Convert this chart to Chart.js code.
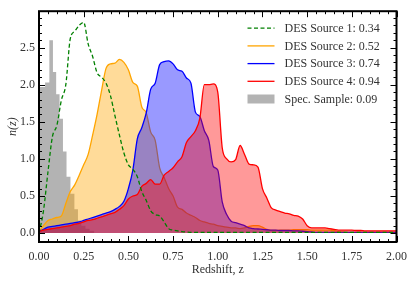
<!DOCTYPE html>
<html>
<head>
<meta charset="utf-8">
<script src="https://cdn.jsdelivr.net/npm/chart.js@4.4.1/dist/chart.umd.min.js"></script>
<style>
  html, body { margin: 0; padding: 0; background: #fff; }
</style>
</head>
<body>
<canvas id="nzChart" width="415" height="282"></canvas>
<script>
// redshift grid for the four DES source bins
const zGrid = [
  0.000, 0.025, 0.050, 0.075, 0.100, 0.125, 0.150, 0.175, 0.200, 0.225,
  0.250, 0.275, 0.300, 0.325, 0.350, 0.375, 0.400, 0.425, 0.450, 0.475,
  0.500, 0.525, 0.550, 0.575, 0.600, 0.625, 0.650, 0.675, 0.700, 0.725,
  0.750, 0.775, 0.800, 0.825, 0.850, 0.875, 0.900, 0.925, 0.950, 0.975,
  1.000, 1.025, 1.050, 1.075, 1.100, 1.125, 1.150, 1.175, 1.200, 1.225,
  1.250, 1.275, 1.300, 1.325, 1.350, 1.375, 1.400, 1.425, 1.450, 1.475,
  1.500, 1.525, 1.550, 1.575, 1.600, 1.625, 1.650, 1.675, 1.700, 1.725,
  1.750, 1.775, 1.800, 1.825, 1.850, 1.875, 1.900, 1.925, 1.950, 1.975,
  2.000
];

const source1 = [
  0.00, 0.30, 0.82, 1.30, 1.45, 1.79, 2.00, 2.62, 2.72, 2.80,
  2.84, 2.55, 2.38, 2.16, 2.10, 2.02, 1.85, 1.58, 1.32, 1.08,
  0.92, 0.86, 0.76, 0.56, 0.44, 0.30, 0.25, 0.23, 0.15, 0.06,
  0.04, 0.03, 0.02, 0.015, 0.01, 0.01, 0.01, 0.01, 0.01, 0.01,
  0.01, 0.01, 0.01, 0.01, 0.01, 0.01, 0.01, 0.01, 0.01, 0.01,
  0.01, 0.01, 0.01, 0.01, 0.01, 0.01, 0.01, 0.01, 0.01, 0.01,
  0.01, 0.01, 0.01, 0.01, 0.01, 0.01, 0.01, 0.01, 0.01, 0.01,
  0.01, 0.01, 0.01, 0.01, 0.01, 0.01, 0.01, 0.01, 0.01, 0.01,
  0.01
];

const source2 = [
  0.02, 0.10, 0.17, 0.19, 0.21, 0.23, 0.40, 0.56, 0.65, 0.78,
  0.92, 1.06, 1.32, 1.60, 1.92, 2.22, 2.28, 2.29, 2.34, 2.30,
  2.20, 2.03, 1.98, 1.70, 1.62, 1.36, 1.25, 0.88, 0.75, 0.60,
  0.50, 0.35, 0.32, 0.27, 0.24, 0.21, 0.17, 0.15, 0.13, 0.12,
  0.10, 0.09, 0.08, 0.07, 0.07, 0.06, 0.07, 0.09, 0.10, 0.10,
  0.08, 0.05, 0.035, 0.035, 0.04, 0.04, 0.04, 0.045, 0.045, 0.045,
  0.045, 0.04, 0.04, 0.04, 0.04, 0.04, 0.035, 0.02, 0.015, 0.01,
  0.01, 0.01, 0.01, 0.01, 0.01, 0.01, 0.01, 0.01, 0.01, 0.01,
  0.01
];

const source3 = [
  0.02, 0.05, 0.08, 0.09, 0.10, 0.11, 0.12, 0.13, 0.14, 0.15,
  0.17, 0.19, 0.21, 0.23, 0.25, 0.27, 0.29, 0.32, 0.36, 0.43,
  0.60, 0.85, 1.27, 1.42, 1.62, 1.94, 2.02, 2.27, 2.31, 2.32,
  2.28, 2.20, 2.18, 2.09, 2.02, 1.63, 1.57, 1.38, 1.25, 0.90,
  0.85, 0.42, 0.25, 0.16, 0.14, 0.12, 0.10, 0.07, 0.06, 0.055,
  0.05, 0.045, 0.04, 0.04, 0.035, 0.035, 0.035, 0.03, 0.03, 0.025,
  0.02, 0.015, 0.01, 0.01, 0.01, 0.01, 0.01, 0.01, 0.01, 0.01,
  0.01, 0.01, 0.01, 0.01, 0.01, 0.01, 0.01, 0.01, 0.01, 0.01,
  0.01
];

const source4 = [
  0.02, 0.04, 0.05, 0.06, 0.07, 0.08, 0.09, 0.10, 0.12, 0.13,
  0.15, 0.17, 0.18, 0.20, 0.22, 0.24, 0.26, 0.28, 0.32, 0.37,
  0.46, 0.50, 0.52, 0.63, 0.67, 0.72, 0.66, 0.66, 0.78, 0.83,
  0.88, 0.96, 1.03, 1.22, 1.30, 1.38, 1.55, 2.00, 2.00, 2.01,
  1.90, 1.15, 1.00, 0.96, 0.99, 1.18, 1.06, 0.93, 0.92, 0.89,
  0.60, 0.47, 0.34, 0.31, 0.29, 0.27, 0.26, 0.24, 0.23, 0.19,
  0.10, 0.07, 0.07, 0.07, 0.07, 0.06, 0.05, 0.04, 0.04, 0.04,
  0.04, 0.035, 0.035, 0.03, 0.03, 0.03, 0.03, 0.03, 0.03, 0.03,
  0.03
];

// spectroscopic sample histogram: left bin edges and heights (last edge closes it)
const specEdges = [0.000, 0.034, 0.058, 0.078, 0.096, 0.115, 0.134, 0.154, 0.176, 0.198, 0.218, 0.237, 0.260, 0.283, 0.310];
const specValues = [1.97, 2.03, 2.60, 2.17, 1.87, 1.54, 1.10, 0.76, 0.53, 0.32, 0.17, 0.10, 0.06, 0.03, 0.00];

const seriesNames = ['DES Source 1: 0.34', 'DES Source 2: 0.52', 'DES Source 3: 0.74', 'DES Source 4: 0.94', 'Spec. Sample: 0.09'];
const xTicks = [0, 0.25, 0.5, 0.75, 1, 1.25, 1.5, 1.75, 2];
const yTicks = [0, 0.5, 1, 1.5, 2, 2.5];

const FONT = '"Liberation Serif", "Times New Roman", serif';
const TEXT = '#333';

function pts(xs, ys) {
  return xs.map((x, i) => ({ x: x, y: ys[i] }));
}

// inward ticks on all four sides plus the black frame
const frameTicks = {
  id: 'frameTicks',
  afterDatasetsDraw(chart) {
    const { ctx, chartArea: a, scales: { x, y } } = chart;
    ctx.save();
    ctx.strokeStyle = '#000';
    ctx.lineWidth = 1;
    ctx.beginPath();
    for (let v = 0; v <= 2.0001; v += 0.05) {
      const px = Math.round(x.getPixelForValue(v)) + 0.5;
      const major = Math.abs(v / 0.25 - Math.round(v / 0.25)) < 1e-6;
      const len = major ? 6 : 3;
      ctx.moveTo(px, a.bottom); ctx.lineTo(px, a.bottom - len);
      ctx.moveTo(px, a.top); ctx.lineTo(px, a.top + len);
    }
    for (let v = -0.1; v <= 2.95; v += 0.1) {
      const py = Math.round(y.getPixelForValue(v)) + 0.5;
      const major = Math.abs(v / 0.5 - Math.round(v / 0.5)) < 1e-6;
      const len = major ? 6 : 3;
      ctx.moveTo(a.left, py); ctx.lineTo(a.left + len, py);
      ctx.moveTo(a.right, py); ctx.lineTo(a.right - len, py);
    }
    ctx.stroke();
    ctx.lineWidth = 2;
    ctx.strokeRect(a.left, a.top, a.right - a.left, a.bottom - a.top);
    ctx.restore();
  }
};

// matplotlib-style legend in the upper right corner of the axes
const cornerLegend = {
  id: 'cornerLegend',
  afterDraw(chart) {
    const { ctx, chartArea: a } = chart;
    const x0 = a.right - 149;
    const y0 = a.top + 17;
    ctx.save();
    ctx.font = '12px ' + FONT;
    ctx.textBaseline = 'middle';
    ctx.fillStyle = TEXT;
    chart.data.datasets.forEach((ds, i) => {
      const yy = y0 + i * 17.7;
      if (ds.isHist) {
        ctx.fillStyle = ds.backgroundColor;
        ctx.fillRect(x0, yy - 4.5, 27, 9);
      } else {
        ctx.strokeStyle = ds.borderColor;
        ctx.lineWidth = ds.borderWidth;
        ctx.setLineDash(ds.borderDash || []);
        ctx.beginPath();
        ctx.moveTo(x0, yy);
        ctx.lineTo(x0 + 27, yy);
        ctx.stroke();
        ctx.setLineDash([]);
      }
      ctx.fillStyle = TEXT;
      ctx.fillText(ds.label, x0 + 37, yy + 0.5);
    });
    ctx.restore();
  }
};

const curve = { pointRadius: 0, borderWidth: 1.3, cubicInterpolationMode: 'monotone', fill: 'origin' };

new Chart(document.getElementById('nzChart'), {
  type: 'line',
  data: {
    datasets: [
      { ...curve, label: seriesNames[0], data: pts(zGrid, source1), borderColor: '#008000', borderDash: [4, 2.5], fill: false, order: 0 },
      { ...curve, label: seriesNames[1], data: pts(zGrid, source2), borderColor: '#ffa500', backgroundColor: 'rgba(255,165,0,0.4)', order: 3 },
      { ...curve, label: seriesNames[2], data: pts(zGrid, source3), borderColor: '#0000ff', backgroundColor: 'rgba(0,0,255,0.4)', order: 2 },
      { ...curve, label: seriesNames[3], data: pts(zGrid, source4), borderColor: '#ff0000', backgroundColor: 'rgba(255,0,0,0.4)', order: 1 },
      { label: seriesNames[4], data: pts(specEdges, specValues), isHist: true, stepped: true, pointRadius: 0, borderWidth: 0,
        borderColor: 'rgba(0,0,0,0)', backgroundColor: '#b3b3b3', fill: 'origin', order: 4 }
    ]
  },
  options: {
    responsive: false,
    animation: false,
    layout: { padding: { top: 5, right: 16, left: 0, bottom: 0 } },
    plugins: { legend: { display: false }, tooltip: { enabled: false } },
    scales: {
      x: {
        type: 'linear', min: 0, max: 2,
        grid: { display: false, drawTicks: false }, border: { display: false },
        afterBuildTicks: (s) => { s.ticks = xTicks.map(v => ({ value: v })); },
        afterFit: (s) => { s.height = 40; },
        ticks: { padding: 8, color: TEXT, font: { family: FONT, size: 12 }, maxRotation: 0, callback: (v) => Number(v).toFixed(2) },
        title: { display: true, text: 'Redshift, z', color: TEXT, font: { family: FONT, size: 12 }, padding: { top: 0, bottom: 5 } }
      },
      y: {
        type: 'linear', min: -0.12, max: 2.99,
        grid: { display: false, drawTicks: false }, border: { display: false },
        afterBuildTicks: (s) => { s.ticks = yTicks.map(v => ({ value: v })); },
        afterFit: (s) => { s.width = 39; },
        ticks: { padding: 4, color: TEXT, font: { family: FONT, size: 12 }, callback: (v) => Number(v).toFixed(1) },
        title: { display: true, text: 'n(z)', color: TEXT, font: { family: FONT, size: 12, style: 'italic' }, padding: { top: 6, bottom: 0 } }
      }
    }
  },
  plugins: [frameTicks, cornerLegend]
});
</script>
</body>
</html>
